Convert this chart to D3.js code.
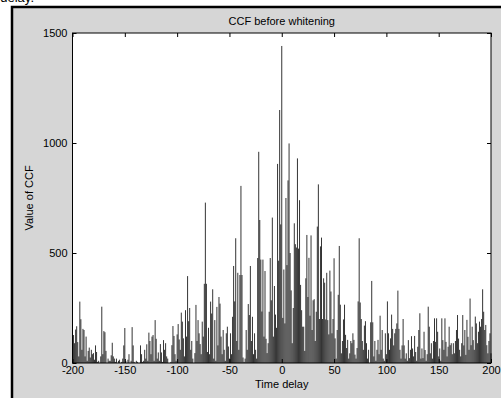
<!DOCTYPE html>
<html>
<head>
<meta charset="utf-8">
<script src="https://cdn.jsdelivr.net/npm/d3@7/dist/d3.min.js"></script>
<style>
  html, body { margin: 0; padding: 0; background: #fff; }
  svg { display: block; font-family: "Liberation Sans", Arial, sans-serif; }
</style>
</head>
<body>
<svg id="chart" width="501" height="398"></svg>
<script>
// chart data
const chartTitle = 'CCF before whitening';
const xLabel = 'Time delay';
const yLabel = 'Value of CCF';
const xTicks = [-200, -150, -100, -50, 0, 50, 100, 150, 200];
const yTicks = [0, 500, 1000, 1500];
const lagStart = -200;
// one value per lag, -200 .. 200, ten lags per row
const ccfValues = [
  60, 127, 90, 152, 167, 95, 30, 279, 199, 60,
  155, 150, 30, 120, 10, 55, 70, 25, 60, 40,
  45, 15, 80, 50, 5, 10, 0, 30, 256, 40,
  145, 140, 55, 0, 20, 10, 10, 35, 92, 30,
  20, 5, 20, 0, 10, 15, 0, 5, 20, 80,
  159, 10, 0, 15, 40, 0, 10, 163, 80, 5,
  0, 10, 5, 0, 0, 80, 40, 5, 10, 60,
  20, 85, 10, 138, 100, 40, 120, 127, 10, 195,
  110, 20, 48, 10, 86, 48, 5, 104, 60, 90,
  30, 20, 0, 0, 5, 81, 168, 123, 40, 10,
  130, 177, 107, 60, 229, 188, 112, 30, 240, 120,
  395, 190, 250, 60, 100, 20, 0, 45, 264, 100,
  195, 135, 86, 40, 188, 120, 360, 729, 360, 50,
  160, 40, 279, 225, 335, 20, 195, 10, 255, 80,
  300, 270, 120, 40, 150, 60, 10, 135, 165, 75,
  20, 135, 40, 210, 441, 280, 567, 100, 410, 60,
  400, 805, 400, 25, 5, 20, 150, 60, 268, 218,
  441, 100, 210, 40, 135, 60, 20, 477, 960, 650,
  470, 234, 470, 120, 418, 110, 45, 90, 233, 477,
  285, 661, 120, 350, 220, 160, 905, 465, 1150, 630,
  1441, 205, 425, 180, 750, 445, 830, 998, 500, 330,
  90, 250, 635, 540, 525, 930, 520, 740, 355, 240,
  165, 165, 55, 385, 582, 300, 478, 215, 580, 150,
  285, 290, 100, 233, 620, 812, 200, 530, 570, 200,
  385, 365, 198, 410, 195, 130, 420, 325, 135, 200,
  476, 112, 20, 150, 310, 532, 265, 44, 100, 198,
  265, 128, 68, 105, 20, 44, 100, 90, 135, 105,
  38, 20, 68, 280, 567, 275, 200, 100, 60, 170,
  190, 90, 20, 60, 0, 185, 373, 185, 30, 100,
  10, 60, 105, 40, 215, 60, 150, 20, 10, 135,
  40, 280, 135, 60, 112, 220, 155, 80, 135, 155,
  180, 329, 155, 60, 20, 80, 200, 80, 20, 44,
  10, 104, 22, 60, 122, 66, 30, 123, 50, 10,
  74, 150, 226, 20, 66, 22, 142, 59, 10, 40,
  256, 165, 44, 90, 20, 100, 203, 96, 203, 142,
  30, 66, 10, 203, 104, 60, 203, 96, 30, 74,
  165, 81, 90, 40, 90, 44, 100, 150, 218, 111,
  60, 30, 90, 218, 80, 150, 37, 196, 119, 60,
  293, 81, 165, 104, 60, 211, 180, 90, 142, 188,
  165, 200, 335, 233, 150, 173, 81, 44, 100, 135,
  44
];

const config = {
  plot: {left: 72.5, top: 33, right: 491, bottom: 363},
  figureFill: '#d6d6d6'
};

const svg = d3.select('#chart');
const p = config.plot;

// figure background with the black frame of the screenshot
svg.append('rect')
  .attr('x', 0).attr('y', 0).attr('width', 501).attr('height', 398)
  .attr('fill', '#fff');
svg.append('rect')
  .attr('x', 12).attr('y', 7).attr('width', 501).attr('height', 398)
  .attr('fill', config.figureFill)
  .attr('stroke', '#000').attr('stroke-width', 2.5);

// bit of caption text cut off above the frame
svg.append('text')
  .attr('x', 34).attr('y', 2)
  .attr('text-anchor', 'end')
  .attr('font-size', 13)
  .attr('fill', '#000')
  .text('delay.');

const xScale = d3.scaleLinear().domain([-200, 200]).range([p.left, p.right]);
const yScale = d3.scaleLinear().domain([0, 1500]).range([p.bottom, p.top]);

// white axes area
svg.append('rect')
  .attr('x', p.left).attr('y', p.top)
  .attr('width', p.right - p.left).attr('height', p.bottom - p.top)
  .attr('fill', '#fff');

// one vertical line per lag
svg.append('g').classed('stems', true)
  .selectAll('line')
  .data(ccfValues)
  .enter().append('line')
  .attr('x1', (d, i) => xScale(lagStart + i))
  .attr('x2', (d, i) => xScale(lagStart + i))
  .attr('y1', yScale(0))
  .attr('y2', d => yScale(d))
  .attr('stroke', '#000')
  .attr('stroke-width', 0.8);

// axes, ticks pointing inward like matlab, plain hyphen minus
const fmt = d => String(d);
const tickLen = 4;
const xAxisBottom = d3.axisBottom(xScale).tickValues(xTicks).tickSizeInner(-tickLen).tickSizeOuter(0).tickPadding(3).tickFormat(fmt);
const xAxisTop = d3.axisTop(xScale).tickValues(xTicks).tickSizeInner(-tickLen).tickSizeOuter(0).tickFormat('');
const yAxisLeft = d3.axisLeft(yScale).tickValues(yTicks).tickSizeInner(-tickLen).tickSizeOuter(0).tickPadding(5).tickFormat(fmt);
const yAxisRight = d3.axisRight(yScale).tickValues(yTicks).tickSizeInner(-tickLen).tickSizeOuter(0).tickFormat('');

svg.append('g').attr('transform', `translate(0,${p.bottom})`).call(xAxisBottom);
svg.append('g').attr('transform', `translate(0,${p.top})`).call(xAxisTop);
svg.append('g').attr('transform', `translate(${p.left},0)`).call(yAxisLeft);
svg.append('g').attr('transform', `translate(${p.right},0)`).call(yAxisRight);

svg.selectAll('.domain').remove();
svg.selectAll('.tick line').attr('stroke', '#000');
svg.selectAll('.tick text')
  .attr('font-family', '"Liberation Sans", Arial, sans-serif')
  .attr('font-size', 11)
  .attr('fill', '#000');

// axes box
svg.append('rect')
  .attr('x', p.left).attr('y', p.top)
  .attr('width', p.right - p.left).attr('height', p.bottom - p.top)
  .attr('fill', 'none')
  .attr('stroke', '#000').attr('stroke-width', 1);

// labels
svg.append('text')
  .attr('x', (p.left + p.right) / 2).attr('y', 25)
  .attr('text-anchor', 'middle').attr('font-size', 11)
  .text(chartTitle);
svg.append('text')
  .attr('x', (p.left + p.right) / 2).attr('y', 388)
  .attr('text-anchor', 'middle').attr('font-size', 11)
  .text(xLabel);
svg.append('text')
  .attr('transform', `translate(33,${(p.top + p.bottom) / 2}) rotate(-90)`)
  .attr('text-anchor', 'middle').attr('font-size', 11)
  .text(yLabel);
</script>
</body>
</html>
